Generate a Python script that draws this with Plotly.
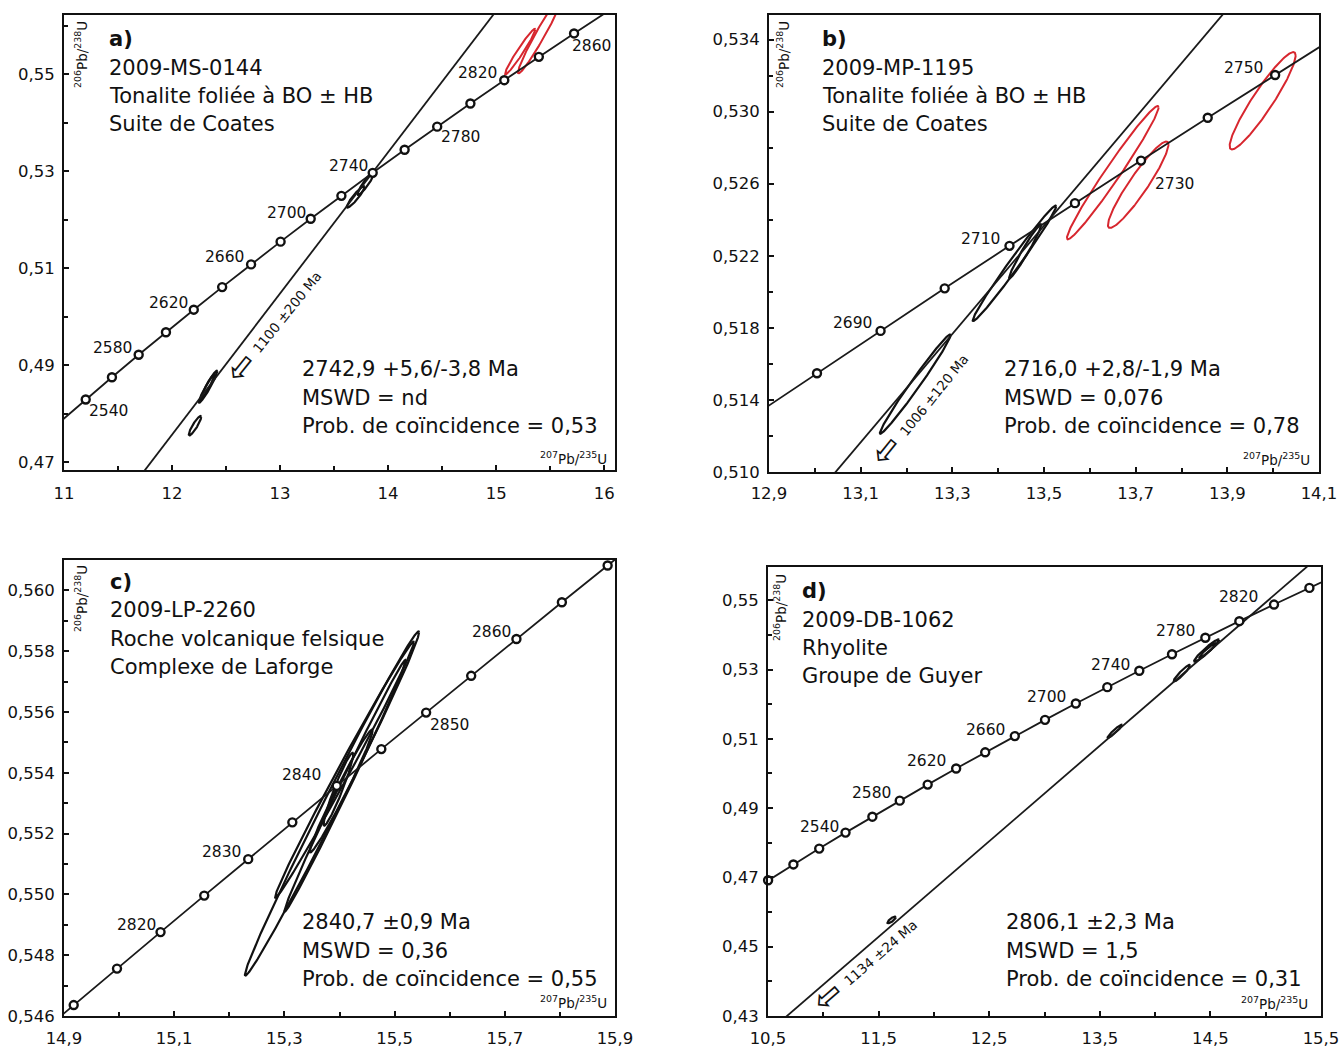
import numpy as np
import plotly.graph_objects as go

W, H = 1343, 1051
FONT = "DejaVu Sans"
RED = "#d7262e"

# ---------------- Concordia reference points (age Ma, 207Pb/235U, 206Pb/238U)
# panel a (20 Ma steps)
conc_a_age = [2520, 2540, 2560, 2580, 2600, 2620, 2640, 2660, 2680, 2700, 2720,
              2740, 2760, 2780, 2800, 2820, 2840, 2860, 2880]
conc_a_x = [10.9630, 11.2010, 11.4437, 11.6912, 11.9437, 12.2012, 12.4638, 12.7316,
            13.0047, 13.2833, 13.5675, 13.8572, 14.1528, 14.4542, 14.7616, 15.0752,
            15.3950, 15.7211, 16.0537]
conc_a_y = [0.47832, 0.48293, 0.48753, 0.49216, 0.49679, 0.50145, 0.50611, 0.51079,
            0.51548, 0.52019, 0.52492, 0.52966, 0.53441, 0.53918, 0.54396, 0.54876,
            0.55357, 0.55840, 0.56324]
conc_a_labels = [2540, 2580, 2620, 2660, 2700, 2740, 2780, 2820, 2860]

# panel b (10 Ma steps)
conc_b_age = [2670, 2680, 2690, 2700, 2710, 2720, 2730, 2740, 2750, 2760]
conc_b_x = [12.8675, 13.0047, 13.1434, 13.2833, 13.4247, 13.5675, 13.7117, 13.8572,
            14.0043, 14.1528]
conc_b_y = [0.51314, 0.51548, 0.51783, 0.52019, 0.52255, 0.52492, 0.52728, 0.52966,
            0.53203, 0.53441]
conc_b_labels = [2690, 2710, 2730, 2750]

# panel c (5 Ma steps)
conc_c_age = [2805, 2810, 2815, 2820, 2825, 2830, 2835, 2840, 2845, 2850, 2855, 2860,
              2865, 2870, 2875]
conc_c_x = [14.8394, 14.9176, 14.9962, 15.0752, 15.1545, 15.2343, 15.3144, 15.3950,
            15.4759, 15.5572, 15.6390, 15.7211, 15.8036, 15.8866, 15.9700]
conc_c_y = [0.54516, 0.54636, 0.54756, 0.54876, 0.54996, 0.55116, 0.55237, 0.55357,
            0.55478, 0.55598, 0.55719, 0.55840, 0.55961, 0.56082, 0.56203]
conc_c_labels = [2820, 2830, 2840, 2850, 2860]

# panel d (20 Ma steps)
conc_d_age = [2460, 2480, 2500, 2520, 2540, 2560, 2580, 2600, 2620, 2640, 2660, 2680,
              2700, 2720, 2740, 2760, 2780, 2800, 2820, 2840, 2860]
conc_d_x = [10.2766, 10.5009, 10.7297, 10.9630, 11.2010, 11.4437, 11.6912, 11.9437,
            12.2012, 12.4638, 12.7316, 13.0047, 13.2833, 13.5675, 13.8572, 14.1528,
            14.4542, 14.7616, 15.0752, 15.3950, 15.7211]
conc_d_y = [0.46464, 0.46919, 0.47375, 0.47832, 0.48293, 0.48753, 0.49216, 0.49679,
            0.50145, 0.50611, 0.51079, 0.51548, 0.52019, 0.52492, 0.52966, 0.53441,
            0.53918, 0.54396, 0.54876, 0.55357, 0.55840]
conc_d_labels = [2540, 2580, 2620, 2660, 2700, 2740, 2780, 2820]

# ---------------- Discordia lines (two points each)
disc_a_x, disc_a_y = [11.70, 15.10], [0.46695, 0.56594]
disc_b_x, disc_b_y = [13.00, 13.95], [0.50864, 0.53719]
disc_d_x, disc_d_y = [10.60, 15.45], [0.42803, 0.56180]

# ---------------- Analyses: centre, 2-sigma half extents, error correlation
ell_a_red_x = [15.222, 15.412]
ell_a_red_sx = [0.140, 0.210]
ell_a_red_y = [0.55464, 0.55835]
ell_a_red_sy = [0.0047, 0.0082]
ell_a_red_rho = [0.971, 0.973]

ell_a_x = [13.700, 13.795, 12.333, 12.330, 12.2125]
ell_a_sx = [0.082, 0.077, 0.085, 0.065, 0.057]
ell_a_y = [0.5247, 0.5275, 0.48557, 0.48560, 0.47753]
ell_a_sy = [0.0022, 0.0024, 0.0033, 0.0026, 0.0020]
ell_a_rho = [0.925, 0.925, 0.959, 0.96, 0.90]

ell_b_red_x = [13.977, 13.650, 13.7055]
ell_b_red_sx = [0.072, 0.100, 0.066]
ell_b_red_y = [0.5306, 0.52661, 0.52594]
ell_b_red_sy = [0.0027, 0.0037, 0.0024]
ell_b_red_rho = [0.93, 0.98, 0.93]

ell_b_x = [13.219, 13.4355, 13.459]
ell_b_sx = [0.077, 0.091, 0.035]
ell_b_y = [0.514875, 0.52158, 0.52225]
ell_b_sy = [0.00275, 0.0032, 0.0015]
ell_b_rho = [0.987, 0.9885, 0.975]

ell_c_x = [15.3864, 15.4091, 15.4100, 15.4030, 15.3980]
ell_c_sx = [0.158, 0.126, 0.110, 0.057, 0.027]
ell_c_y = [0.55299, 0.55410, 0.55357, 0.55340, 0.55346]
ell_c_sy = [0.00566, 0.00421, 0.00414, 0.00202, 0.00120]
ell_c_rho = [0.9946, 0.995, 0.9957, 0.983, 0.955]

ell_d_x = [14.466, 14.475, 14.2425, 13.6365, 11.6175]
ell_d_sx = [0.113, 0.075, 0.075, 0.066, 0.038]
ell_d_y = [0.5355, 0.5355, 0.52896, 0.5122, 0.45773]
ell_d_sy = [0.0032, 0.0021, 0.0024, 0.0019, 0.00097]
ell_d_rho = [0.952, 0.95, 0.94, 0.95, 0.81]

# ---------------- Text
titles = {
    "a": ["a)", "2009-MS-0144", "Tonalite foliée à BO ± HB", "Suite de Coates"],
    "b": ["b)", "2009-MP-1195", "Tonalite foliée à BO ± HB", "Suite de Coates"],
    "c": ["c)", "2009-LP-2260", "Roche volcanique felsique", "Complexe de Laforge"],
    "d": ["d)", "2009-DB-1062", "Rhyolite", "Groupe de Guyer"],
}
stats = {
    "a": ["2742,9 +5,6/-3,8 Ma", "MSWD = nd", "Prob. de coïncidence = 0,53"],
    "b": ["2716,0 +2,8/-1,9 Ma", "MSWD = 0,076", "Prob. de coïncidence = 0,78"],
    "c": ["2840,7 ±0,9 Ma", "MSWD = 0,36", "Prob. de coïncidence = 0,55"],
    "d": ["2806,1 ±2,3 Ma", "MSWD = 1,5", "Prob. de coïncidence = 0,31"],
}
lower_intercepts = {"a": "1100 ±200 Ma", "b": "1006 ±120 Ma", "d": "1134 ±24 Ma"}

XT = "<sup>207</sup>Pb/<sup>235</sup>U"
YT = "<sup>206</sup>Pb/<sup>238</sup>U"


def px(x):
    return x / W


def py(y):
    return 1 - y / H


fig = go.Figure()

panels = {
    "a": ("x", "y"),
    "b": ("x2", "y2"),
    "c": ("x3", "y3"),
    "d": ("x4", "y4"),
}


def ellipse(cx, cy, sx, sy, rho, n=241):
    t = np.linspace(0, 2 * np.pi, n)
    ex = cx + sx * np.cos(t)
    ey = cy + sy * (rho * np.cos(t) + np.sqrt(1 - rho ** 2) * np.sin(t))
    return ex, ey


def add_ellipses(key, xs, sxs, ys, sys, rhos, color, width):
    xa, ya = panels[key]
    for cx, sx, cy, sy, r in zip(xs, sxs, ys, sys, rhos):
        ex, ey = ellipse(cx, cy, sx, sy, r)
        fig.add_trace(go.Scatter(x=ex, y=ey, mode="lines", xaxis=xa, yaxis=ya,
                                 line=dict(color=color, width=width),
                                 hoverinfo="skip", showlegend=False))


def add_line(key, xs, ys, width=1.8):
    xa, ya = panels[key]
    fig.add_trace(go.Scatter(x=xs, y=ys, mode="lines", xaxis=xa, yaxis=ya,
                             line=dict(color="#1a1a1a", width=width),
                             hoverinfo="skip", showlegend=False))


def add_markers(key, ages, xs, ys, lo, hi):
    xa, ya = panels[key]
    sel = [i for i, a in enumerate(ages) if lo <= a <= hi]
    fig.add_trace(go.Scatter(x=[xs[i] for i in sel], y=[ys[i] for i in sel],
                             mode="markers", xaxis=xa, yaxis=ya, cliponaxis=False,
                             marker=dict(symbol="circle", size=8, color="white",
                                         line=dict(color="#111111", width=2.4)),
                             hoverinfo="skip", showlegend=False))


# ellipses first, then discordia, concordia and its markers on top
add_ellipses("a", ell_a_red_x, ell_a_red_sx, ell_a_red_y, ell_a_red_sy, ell_a_red_rho, RED, 2)
add_ellipses("a", ell_a_x, ell_a_sx, ell_a_y, ell_a_sy, ell_a_rho, "#111111", 2.2)
add_ellipses("b", ell_b_red_x, ell_b_red_sx, ell_b_red_y, ell_b_red_sy, ell_b_red_rho, RED, 2)
add_ellipses("b", ell_b_x, ell_b_sx, ell_b_y, ell_b_sy, ell_b_rho, "#111111", 2.2)
add_ellipses("c", ell_c_x, ell_c_sx, ell_c_y, ell_c_sy, ell_c_rho, "#111111", 2.2)
add_ellipses("d", ell_d_x, ell_d_sx, ell_d_y, ell_d_sy, ell_d_rho, "#111111", 2.2)

add_line("a", disc_a_x, disc_a_y)
add_line("b", disc_b_x, disc_b_y)
add_line("d", disc_d_x, disc_d_y)

add_line("a", conc_a_x, conc_a_y)
add_line("b", conc_b_x, conc_b_y)
add_line("c", conc_c_x, conc_c_y)
add_line("d", conc_d_x, conc_d_y)

add_markers("a", conc_a_age, conc_a_x, conc_a_y, 2540, 2860)
add_markers("b", conc_b_age, conc_b_x, conc_b_y, 2680, 2750)
add_markers("c", conc_c_age, conc_c_x, conc_c_y, 2810, 2870)
add_markers("d", conc_d_age, conc_d_x, conc_d_y, 2480, 2840)

annotations = []

# concordia age labels: (anchor, xshift, yshift) per label
label_style = {
    "a": [("left", 1, -11), ("right", -5, 6.5), ("right", -4, 6.5), ("right", -5, 7),
          ("right", -3, 5.5), ("right", -3, 6.5), ("left", 2, -10.7), ("right", -5, 7),
          ("left", -4, -12.7)],
    "b": [("right", -7, 8), ("right", -7, 7), ("left", 12, -23), ("right", -10, 7.5)],
    "c": [("right", -3, 7), ("right", -5, 7), ("right", -14, 11), ("left", 2, -12.6),
          ("right", -3, 7)],
    "d": [("right", -5, 6), ("right", -7, 8), ("right", -8, 7), ("right", -8, 6),
          ("right", -8, 7), ("right", -7, 6), ("right", -8, 7), ("right", -14, 8)],
}
conc = {
    "a": (conc_a_age, conc_a_x, conc_a_y, conc_a_labels),
    "b": (conc_b_age, conc_b_x, conc_b_y, conc_b_labels),
    "c": (conc_c_age, conc_c_x, conc_c_y, conc_c_labels),
    "d": (conc_d_age, conc_d_x, conc_d_y, conc_d_labels),
}
for key, (ages, xs, ys, labs) in conc.items():
    xa, ya = panels[key]
    for lab, (anc, dx, dy) in zip(labs, label_style[key]):
        i = ages.index(lab)
        annotations.append(dict(x=xs[i], y=ys[i], xref=xa, yref=ya, text=str(lab),
                                showarrow=False, xanchor=anc, yanchor="middle",
                                xshift=dx, yshift=dy,
                                font=dict(family=FONT, size=15.5, color="#111111")))

# sample description blocks (left edge, line centres)
title_pos = {
    "a": (107, [39, 68, 96, 124]),
    "b": (820, [39, 68, 96, 124]),
    "c": (108, [582, 610, 639, 667]),
    "d": (800, [591, 620, 648, 676]),
}
for key, lines in titles.items():
    x0, ys = title_pos[key]
    for j, (txt, yy) in enumerate(zip(lines, ys)):
        t = "<b>%s</b>" % txt if j == 0 else txt
        annotations.append(dict(x=px(x0), y=py(yy), xref="paper", yref="paper", text=t,
                                showarrow=False, xanchor="left", yanchor="middle",
                                font=dict(family=FONT, size=21, color="#111111")))

stats_pos = {
    "a": (300, [369, 398, 426]),
    "b": (1002, [369, 398, 426]),
    "c": (300, [922, 951, 979]),
    "d": (1004, [922, 951, 979]),
}
for key, lines in stats.items():
    x0, ys = stats_pos[key]
    for txt, yy in zip(lines, ys):
        annotations.append(dict(x=px(x0), y=py(yy), xref="paper", yref="paper", text=txt,
                                showarrow=False, xanchor="left", yanchor="middle",
                                font=dict(family=FONT, size=21, color="#111111")))

# axis titles inside each frame
ytitle_pos = {"a": (81, 55), "b": (783, 55), "c": (81, 599), "d": (780, 608)}
xtitle_pos = {"a": (609, 458), "b": (1312, 459), "c": (609, 1002), "d": (1310, 1003)}
for key in "abcd":
    x0, y0 = ytitle_pos[key]
    annotations.append(dict(x=px(x0), y=py(y0), xref="paper", yref="paper", text=YT,
                            showarrow=False, textangle=-90, xanchor="center",
                            yanchor="middle", font=dict(family=FONT, size=13.5, color="#111111")))
    x1, y1 = xtitle_pos[key]
    annotations.append(dict(x=px(x1), y=py(y1), xref="paper", yref="paper", text=XT,
                            showarrow=False, xanchor="right", yanchor="middle",
                            font=dict(family=FONT, size=13.5, color="#111111")))

# lower-intercept labels along the discordia, with a hollow arrow
intercept_pos = {
    # text centre, arrow centre, angle
    "a": ((287, 312), (240, 367), -51),
    "b": ((934, 395), (885, 450), -51),
    "d": ((880, 953), (827, 996), -41),
}
for key, txt in lower_intercepts.items():
    (tx, ty), (ax_, ay_), ang = intercept_pos[key]
    annotations.append(dict(x=px(tx), y=py(ty), xref="paper", yref="paper", text=txt,
                            showarrow=False, textangle=ang, xanchor="center",
                            yanchor="middle", font=dict(family=FONT, size=13.5, color="#111111")))
    annotations.append(dict(x=px(ax_), y=py(ay_), xref="paper", yref="paper", text="⇦",
                            showarrow=False, textangle=ang, xanchor="center",
                            yanchor="middle", font=dict(family=FONT, size=34, color="#111111")))

# axes
axis_common = dict(showline=True, linecolor="#111111", linewidth=2, mirror=True,
                   ticks="inside", ticklen=5, tickwidth=1.6, tickcolor="#111111",
                   showgrid=False, zeroline=False, automargin=False,
                   tickfont=dict(family=FONT, size=16.5, color="#111111"))


def xaxis(domain, rng, tick0, dtick, mdtick, fmt, anchor, standoff):
    d = dict(axis_common)
    d.update(domain=domain, range=rng, tick0=tick0, dtick=dtick, tickformat=fmt,
             anchor=anchor, ticklabelstandoff=standoff,
             minor=dict(ticks="inside", ticklen=4, tickwidth=1.6, tickcolor="#111111",
                        tick0=tick0, dtick=mdtick, showgrid=False))
    return d


def yaxis(domain, rng, tick0, dtick, mdtick, fmt, anchor):
    d = dict(axis_common)
    d.update(domain=domain, range=rng, tick0=tick0, dtick=dtick, tickformat=fmt,
             anchor=anchor, ticklabelstandoff=4,
             minor=dict(ticks="inside", ticklen=4, tickwidth=1.6, tickcolor="#111111",
                        tick0=tick0, dtick=mdtick, showgrid=False))
    return d


fig.update_layout(
    width=W, height=H,
    margin=dict(l=0, r=0, t=0, b=0, autoexpand=False),
    paper_bgcolor="white", plot_bgcolor="white",
    separators=", ",
    showlegend=False,
    xaxis=xaxis([px(64), px(615)], [11, 16.1], 11, 1, 0.5, ".0f", "y", 7),
    yaxis=yaxis([py(470), py(15)], [0.4684, 0.5622], 0.47, 0.02, 0.01, ".2f", "x"),
    xaxis2=xaxis([px(769), px(1319)], [12.9, 14.1], 12.9, 0.2, 0.1, ".1f", "y2", 5),
    yaxis2=yaxis([py(472), py(15)], [0.510, 0.53536], 0.510, 0.004, 0.002, ".3f", "x2"),
    xaxis3=xaxis([px(64), px(615)], [14.9, 15.9], 14.9, 0.2, 0.1, ".1f", "y3", 6),
    yaxis3=yaxis([py(1016), py(560)], [0.546, 0.561], 0.546, 0.002, 0.001, ".3f", "x3"),
    xaxis4=xaxis([px(768), px(1321)], [10.5, 15.5], 10.5, 1, 0.5, ".1f", "y4", 6),
    yaxis4=yaxis([py(1016), py(567)], [0.43, 0.5596], 0.43, 0.02, 0.01, ".2f", "x4"),
    annotations=annotations,
)

fig.write_html("out.html")
